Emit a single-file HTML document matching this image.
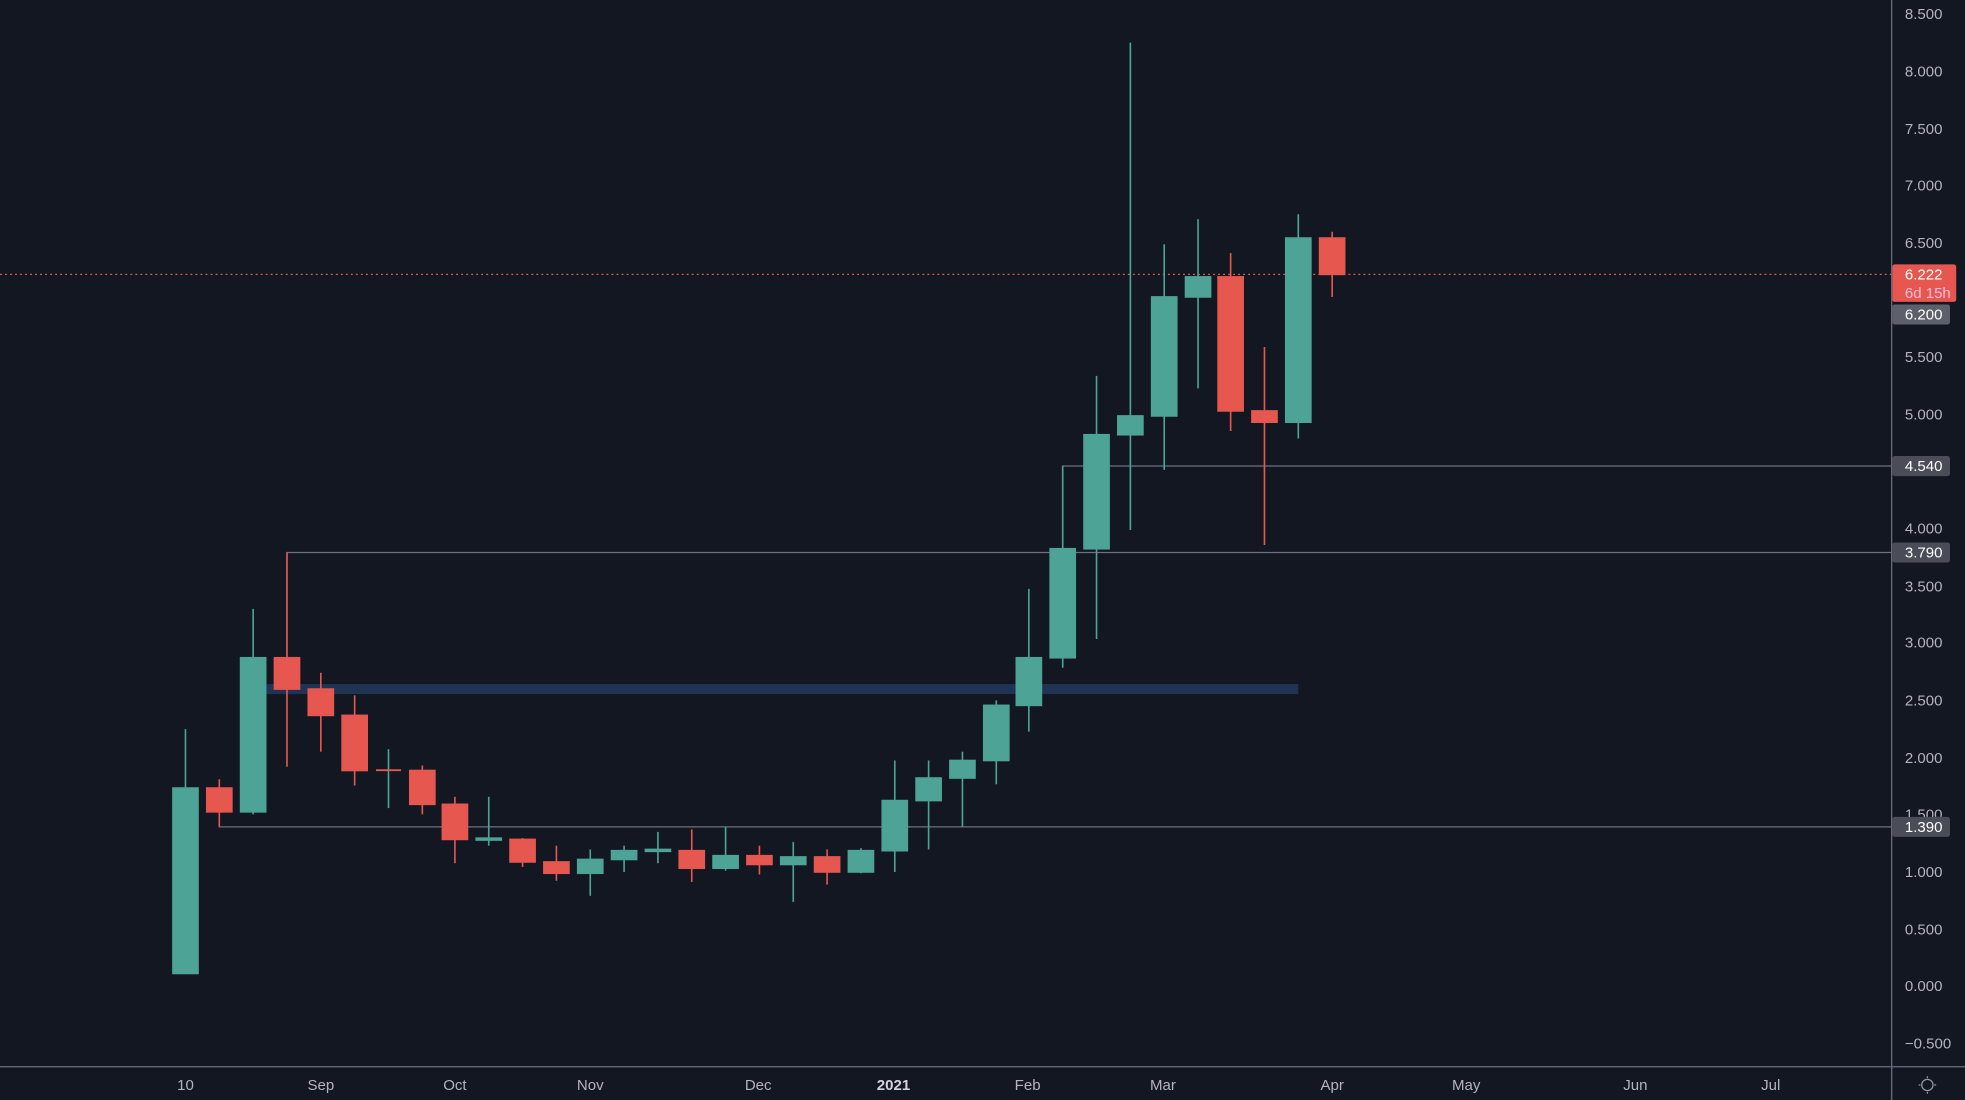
<!DOCTYPE html>
<html><head><meta charset="utf-8"><style>
html,body{margin:0;padding:0;background:#131722;}
svg{display:block}
text{font-family:"Liberation Sans",sans-serif;}
</style></head><body>
<svg width="1965" height="1100" viewBox="0 0 1568 878" preserveAspectRatio="none">
<rect width="1568" height="878" fill="#131722"/>
<!-- levels -->
<line x1="0" y1="219" x2="1509" y2="219" stroke="#e5574f" stroke-width="1" stroke-dasharray="1.5,2.5"/>
<rect x="212" y="546" width="824" height="8" fill="#1f3352"/>
<polyline points="175,648 175,660 1509,660" fill="none" stroke="#6d7080" stroke-width="1"/>
<polyline points="229,525 229,441 1509,441" fill="none" stroke="#6d7080" stroke-width="1"/>
<polyline points="848,438 848,372 1509,372" fill="none" stroke="#6d7080" stroke-width="1"/>
<g stroke-width="1.3">
<g stroke="#4da395" fill="#4da395">
<line x1="148" y1="582" x2="148" y2="777"/><rect x="138" y="629" width="20" height="148"/>
<line x1="202" y1="486" x2="202" y2="650"/><rect x="192" y="525" width="20" height="123"/>
<line x1="390" y1="636" x2="390" y2="675"/><rect x="380" y="669" width="20" height="1.5"/>
<line x1="310" y1="598" x2="310" y2="645"/><rect x="300" y="614" width="20" height="1.5" fill="#e5574f" stroke="none"/>
<line x1="471" y1="678" x2="471" y2="715"/><rect x="461" y="686" width="20" height="11"/>
<line x1="498" y1="675" x2="498" y2="696"/><rect x="488" y="679" width="20" height="7"/>
<line x1="525" y1="664" x2="525" y2="689"/><rect x="515" y="678" width="20" height="1.5"/>
<line x1="579" y1="660" x2="579" y2="695"/><rect x="569" y="683" width="20" height="10"/>
<line x1="633" y1="672" x2="633" y2="720"/><rect x="623" y="684" width="20" height="6"/>
<line x1="687" y1="677" x2="687" y2="697"/><rect x="677" y="679" width="20" height="17"/>
<line x1="714" y1="607" x2="714" y2="696"/><rect x="704" y="639" width="20" height="40"/>
<line x1="741" y1="607" x2="741" y2="678"/><rect x="731" y="621" width="20" height="18"/>
<line x1="768" y1="600" x2="768" y2="660"/><rect x="758" y="607" width="20" height="14"/>
<line x1="795" y1="559" x2="795" y2="626"/><rect x="785" y="563" width="20" height="44"/>
<line x1="821" y1="470" x2="821" y2="584"/><rect x="811" y="525" width="20" height="38"/>
<line x1="848" y1="372" x2="848" y2="533"/><rect x="838" y="438" width="20" height="87"/>
<line x1="875" y1="300" x2="875" y2="510"/><rect x="865" y="347" width="20" height="91"/>
<line x1="902" y1="34" x2="902" y2="423"/><rect x="892" y="332" width="20" height="15"/>
<line x1="929" y1="195" x2="929" y2="375"/><rect x="919" y="237" width="20" height="95"/>
<line x1="956" y1="175" x2="956" y2="310"/><rect x="946" y="221" width="20" height="16"/>
<line x1="1036" y1="171" x2="1036" y2="350"/><rect x="1026" y="190" width="20" height="147"/>
</g>
<g stroke="#e5574f" fill="#e5574f">
<line x1="175" y1="622" x2="175" y2="660"/><rect x="165" y="629" width="20" height="19"/>
<line x1="229" y1="441" x2="229" y2="612"/><rect x="219" y="525" width="20" height="25"/>
<line x1="256" y1="537" x2="256" y2="600"/><rect x="246" y="550" width="20" height="21"/>
<line x1="283" y1="555" x2="283" y2="627"/><rect x="273" y="571" width="20" height="44"/>
<line x1="337" y1="611" x2="337" y2="650"/><rect x="327" y="615" width="20" height="27"/>
<line x1="363" y1="636" x2="363" y2="689"/><rect x="353" y="642" width="20" height="28"/>
<line x1="417" y1="669" x2="417" y2="692"/><rect x="407" y="670" width="20" height="18"/>
<line x1="444" y1="675" x2="444" y2="703"/><rect x="434" y="688" width="20" height="9"/>
<line x1="552" y1="662" x2="552" y2="704"/><rect x="542" y="679" width="20" height="14"/>
<line x1="606" y1="675" x2="606" y2="698"/><rect x="596" y="683" width="20" height="7"/>
<line x1="660" y1="678" x2="660" y2="706"/><rect x="650" y="684" width="20" height="12"/>
<line x1="982" y1="202" x2="982" y2="344"/><rect x="972" y="221" width="20" height="107"/>
<line x1="1009" y1="277" x2="1009" y2="435"/><rect x="999" y="328" width="20" height="9"/>
<line x1="1063" y1="185" x2="1063" y2="237"/><rect x="1053" y="190" width="20" height="29"/>
</g>
</g>
<!-- axes -->
<rect x="1510" y="0" width="58" height="878" fill="#131722"/>
<rect x="0" y="852" width="1568" height="26" fill="#131722"/>
<line x1="1509.5" y1="0" x2="1509.5" y2="878" stroke="#6d7080"/>
<line x1="0" y1="851.5" x2="1568" y2="851.5" stroke="#6d7080"/>
<g fill="#b2b5be" font-size="12" text-anchor="start">
<text x="1520" y="15">8.500</text>
<text x="1520" y="61">8.000</text>
<text x="1520" y="107">7.500</text>
<text x="1520" y="152">7.000</text>
<text x="1520" y="198">6.500</text>
<text x="1520" y="289">5.500</text>
<text x="1520" y="335">5.000</text>
<text x="1520" y="426">4.000</text>
<text x="1520" y="472">3.500</text>
<text x="1520" y="517">3.000</text>
<text x="1520" y="563">2.500</text>
<text x="1520" y="609">2.000</text>
<text x="1520" y="654">1.500</text>
<text x="1520" y="700">1.000</text>
<text x="1520" y="746">0.500</text>
<text x="1520" y="791">0.000</text>
<text x="1520" y="837">−0.500</text>
</g>
<g font-size="12">
<rect x="1510" y="211" width="51" height="30" rx="2" fill="#e5574f"/>
<text x="1520" y="223" fill="#fff">6.222</text>
<text x="1520" y="238" fill="#fbd">6d 15h</text>
<rect x="1510" y="243" width="46" height="16" rx="2" fill="#5d606b"/>
<text x="1520" y="255" fill="#fff">6.200</text>
<rect x="1510" y="364" width="46" height="16" rx="2" fill="#4a4d58"/>
<text x="1520" y="376" fill="#fff">4.540</text>
<rect x="1510" y="433" width="46" height="16" rx="2" fill="#4a4d58"/>
<text x="1520" y="445" fill="#fff">3.790</text>
<rect x="1510" y="652" width="46" height="16" rx="2" fill="#4a4d58"/>
<text x="1520" y="664" fill="#fff">1.390</text>
</g>
<g fill="#b2b5be" font-size="12" text-anchor="middle">
<text x="148" y="870">10</text>
<text x="256" y="870">Sep</text>
<text x="363" y="870">Oct</text>
<text x="471" y="870">Nov</text>
<text x="605" y="870">Dec</text>
<text x="713" y="870" font-weight="bold" fill="#d1d4dc">2021</text>
<text x="820" y="870">Feb</text>
<text x="928" y="870">Mar</text>
<text x="1063" y="870">Apr</text>
<text x="1170" y="870">May</text>
<text x="1305" y="870">Jun</text>
<text x="1413" y="870">Jul</text>
</g>
<g stroke="#9598a1" fill="none" stroke-width="1">
<circle cx="1538" cy="866" r="4.5"/>
<line x1="1538" y1="859" x2="1538" y2="860.5"/><line x1="1538" y1="871.5" x2="1538" y2="873"/>
<line x1="1531" y1="866" x2="1532.5" y2="866"/><line x1="1543.5" y1="866" x2="1545" y2="866"/>
</g>
</svg>
</body></html>
